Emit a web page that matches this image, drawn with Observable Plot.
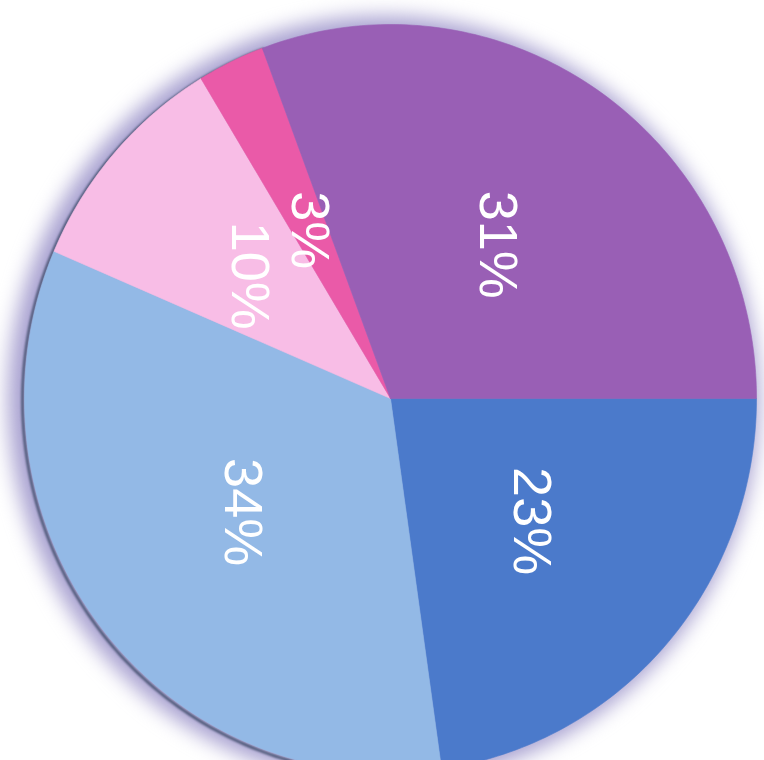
<!DOCTYPE html>
<html><head><meta charset="utf-8">
<script src="https://cdn.jsdelivr.net/npm/d3@7"></script>
<script src="https://cdn.jsdelivr.net/npm/@observablehq/plot@0.6"></script>
<style>body{margin:0;background:#fff;overflow:hidden}</style>
</head><body><div id="chart"></div>
<script>
// Data (clockwise from 3 o'clock)
const categories = ["Blue", "Light blue", "Pink", "Hot pink", "Purple"];
const values = [23, 34, 10, 3, 31];
const labels = ["23%", "34%", "10%", "3%", "31%"];
const colors = ["#4b7acb", "#93b9e6", "#f8bde6", "#ea5aa8", "#995fb5"];

const W = 764, H = 760, CX = 390, CY = 398, RX = 366, RY = 374;

const arcs = d3.pie().value(d => d.value).sort(null)
  .startAngle(Math.PI / 2).endAngle(Math.PI / 2 + 2 * Math.PI)(
    categories.map((c, i) => ({category: c, value: values[i], label: labels[i]}))
  );

const polys = [];
arcs.forEach(a => {
  const c = a.data.category;
  polys.push({category: c, x: 0, y: 0});
  const n = Math.max(2, Math.ceil((a.endAngle - a.startAngle) * 180 / Math.PI));
  for (let k = 0; k <= n; k++) {
    const t = a.startAngle + (a.endAngle - a.startAngle) * k / n;
    polys.push({category: c, x: Math.sin(t), y: Math.cos(t)});
  }
  polys.push({category: c, x: 0, y: 0});
});

// outline ring (for shadow and edge)
const ring = d3.range(0, 361).map(d => ({x: Math.sin(d * Math.PI / 180), y: Math.cos(d * Math.PI / 180)}));
const halo = ring.map(p => ({x: p.x * 1.025, y: p.y * 1.025}));
const edge = d3.range(195, 341).map(d => ({x: Math.sin(d * Math.PI / 180), y: Math.cos(d * Math.PI / 180)}));

const labelData = arcs.map(a => {
  const m = (a.startAngle + a.endAngle) / 2;
  return {label: a.data.label, x: Math.sin(m) * 0.51, y: Math.cos(m) * 0.5};
});

const chart = Plot.plot({
  width: W, height: H,
  margin: 0,
  style: {fontFamily: "'Liberation Sans', Arial, sans-serif", background: "#fff"},
  x: {domain: [(0 - CX) / RX, (W - CX) / RX], range: [0, W], axis: null},
  y: {domain: [(CY - H) / RY, CY / RY], range: [H, 0], axis: null},
  color: {domain: categories, range: colors},
  marks: [
    Plot.line(halo, {x: "x", y: "y", fill: "#a7a0d0", stroke: "none", dx: -7, dy: 1}),
    Plot.line(edge, {x: "x", y: "y", fill: "none", stroke: "#45516f", strokeWidth: 2.5, dx: -2, dy: 2}),
    Plot.line(polys, {x: "x", y: "y", z: "category", fill: "category", stroke: "category", strokeWidth: 0.6, curve: "linear"}),
    Plot.text(labelData, {x: "x", y: "y", text: "label", rotate: 90, fill: "white", fontSize: 54, textAnchor: "middle", lineAnchor: "middle"})
  ]
});

const lines = chart.querySelectorAll('g[aria-label="line"]');
if (lines[0]) lines[0].style.filter = "blur(10px)";
if (lines[1]) lines[1].style.filter = "blur(0.8px)";
document.getElementById("chart").appendChild(chart);
</script>
</body></html>
